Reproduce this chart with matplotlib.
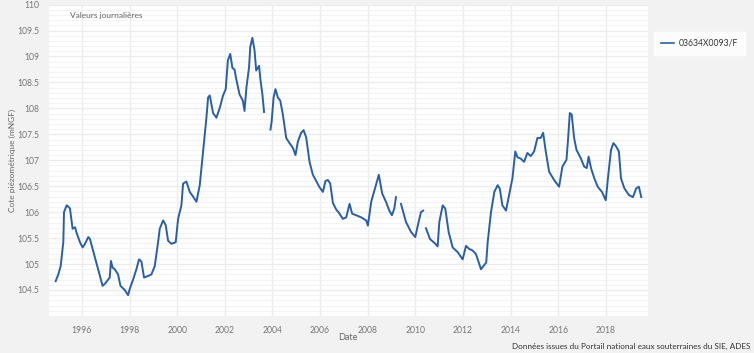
import numpy as np
import matplotlib
matplotlib.use('Agg')
import matplotlib.pyplot as plt
from matplotlib.ticker import MultipleLocator

plt.rcParams['font.family'] = ['Lato', 'DejaVu Sans']

# daily groundwater level (decimal year, mNGF); nan = gap
years = [1994.90, 1995.01, 1995.11, 1995.22, 1995.25, 1995.36, 1995.40, 1995.50, 1995.61, 1995.71,
         1995.78, 1995.92, 1996.03, 1996.12, 1996.27, 1996.34, 1996.87, 1996.97, 1997.17, 1997.22,
         1997.29, 1997.38, 1997.52, 1997.62, 1997.80, 1997.94, 1998.01, 1998.15, 1998.29, 1998.40,
         1998.50, 1998.61, 1998.78, 1998.92, 1999.06, 1999.20, 1999.27, 1999.41, 1999.52, 1999.62,
         1999.76, 1999.94, 2000.04, 2000.18, 2000.25, 2000.39, 2000.53, 2000.67, 2000.81, 2000.95,
         2001.09, 2001.23, 2001.30, 2001.37, 2001.51, 2001.65, 2001.79, 2001.93, 2002.04, 2002.13,
         2002.23, 2002.32, 2002.41, 2002.48, 2002.62, 2002.76, 2002.83, 2002.91, 2003.02, 2003.07,
         2003.16, 2003.25, 2003.32, 2003.44, 2003.50, 2003.58, 2003.65, 2003.80,
         2003.92, 2003.97, 2004.05, 2004.13, 2004.23, 2004.33, 2004.44, 2004.58, 2004.72, 2004.86,
         2004.97, 2005.07, 2005.21, 2005.31, 2005.42, 2005.56, 2005.70, 2005.84, 2005.98, 2006.12,
         2006.23, 2006.33, 2006.43, 2006.54, 2006.68, 2006.79, 2006.96, 2007.10, 2007.24, 2007.35,
         2007.52, 2007.73, 2007.94, 2008.01, 2008.15, 2008.29, 2008.47, 2008.61, 2008.77, 2008.91,
         2009.02, 2009.12, 2009.19, 2009.30,
         2009.40, 2009.61, 2009.82, 2010.00, 2010.14, 2010.24, 2010.33, 2010.40,
         2010.45, 2010.62, 2010.80, 2010.94, 2011.01, 2011.15, 2011.26, 2011.40, 2011.57, 2011.78,
         2011.99, 2012.13, 2012.27, 2012.41, 2012.55, 2012.76, 2012.98, 2013.04, 2013.18, 2013.32,
         2013.46, 2013.55, 2013.66, 2013.81, 2013.94, 2014.08, 2014.20, 2014.29, 2014.43, 2014.57,
         2014.71, 2014.85, 2014.99, 2015.13, 2015.27, 2015.37, 2015.48, 2015.62, 2015.83, 2016.04,
         2016.18, 2016.35, 2016.42, 2016.49, 2016.57, 2016.67, 2016.77, 2016.95, 2017.09, 2017.20,
         2017.28, 2017.38, 2017.52, 2017.66, 2017.84, 2018.00, 2018.09, 2018.22, 2018.32, 2018.43,
         2018.55, 2018.64, 2018.78, 2018.97, 2019.14, 2019.28, 2019.39, 2019.49]
levels = [104.67, 104.80, 104.96, 105.42, 106.00, 106.13, 106.12, 106.07, 105.68, 105.71,
          105.60, 105.42, 105.32, 105.38, 105.52, 105.48, 104.58, 104.62, 104.74, 105.06,
          104.93, 104.90, 104.80, 104.58, 104.50, 104.40, 104.52, 104.70, 104.90, 105.09,
          105.05, 104.74, 104.77, 104.80, 104.96, 105.42, 105.68, 105.84, 105.75, 105.45,
          105.39, 105.42, 105.87, 106.13, 106.55, 106.59, 106.39, 106.30, 106.20, 106.52,
          107.17, 107.82, 108.21, 108.25, 107.91, 107.82, 108.01, 108.25, 108.37, 108.92,
          109.05, 108.78, 108.75, 108.57, 108.27, 108.15, 107.95, 108.40, 108.79, 109.18,
          109.36, 109.12, 108.73, 108.82, 108.55, 108.27, 107.93, np.nan,
          107.59, 107.75, 108.21, 108.37, 108.21, 108.15, 107.88, 107.43, 107.33, 107.24,
          107.10, 107.36, 107.53, 107.58, 107.44, 106.97, 106.72, 106.60, 106.48, 106.39,
          106.60, 106.62, 106.55, 106.18, 106.05, 105.99, 105.87, 105.90, 106.16, 105.97,
          105.94, 105.90, 105.84, 105.74, 106.20, 106.43, 106.72, 106.36, 106.20, 106.03,
          105.94, 106.07, 106.29, np.nan,
          106.16, 105.81, 105.62, 105.52, 105.81, 106.00, 106.03, np.nan,
          105.69, 105.48, 105.41, 105.34, 105.81, 106.13, 106.07, 105.62, 105.32, 105.23,
          105.09, 105.35, 105.29, 105.26, 105.19, 104.90, 105.03, 105.42, 106.00, 106.39,
          106.52, 106.45, 106.13, 106.03, 106.33, 106.65, 107.17, 107.06, 107.03, 106.97,
          107.14, 107.08, 107.17, 107.43, 107.43, 107.53, 107.17, 106.78, 106.62, 106.49,
          106.88, 107.01, 107.43, 107.91, 107.88, 107.43, 107.20, 107.04, 106.88, 106.85,
          107.07, 106.85, 106.65, 106.49, 106.39, 106.23, 106.65, 107.20, 107.33, 107.27,
          107.17, 106.65, 106.46, 106.33, 106.29, 106.46, 106.49, 106.29]
station = '03634X0093/F'
year_ticks = [1996, 1998, 2000, 2002, 2004, 2006, 2008, 2010, 2012, 2014, 2016, 2018]
level_ticks = [104.5, 105, 105.5, 106, 106.5, 107, 107.5, 108, 108.5, 109, 109.5, 110]

fig = plt.figure(figsize=(7.54, 3.53), dpi=100, facecolor='#f2f2f2')
ax = fig.add_axes([0.065, 0.105, 0.794, 0.882])
ax.set_facecolor('white')

ax.plot(years, levels, color='#2a5fa8', lw=1.4, label=station, solid_joinstyle='round')

ax.set_xlim(1994.62, 2019.76)
ax.set_ylim(104.0, 110.0)
ax.set_xticks(year_ticks)
ax.set_xticklabels([str(y) for y in year_ticks])
ax.set_yticks(level_ticks)
ax.set_yticklabels(['104.5', '105', '105.5', '106', '106.5', '107', '107.5', '108',
                    '108.5', '109', '109.5', '110'])
ax.yaxis.set_minor_locator(MultipleLocator(0.1))

ax.grid(True, which='major', color='#ececec', lw=1.0)
ax.grid(True, which='minor', axis='y', color='#f3f3f3', lw=0.8)
ax.set_axisbelow(True)
for s in ax.spines.values():
    s.set_visible(False)
ax.tick_params(which='both', length=0, labelsize=6.2, colors='#777777', pad=7)

fig.text(348 / 754, 1 - 338 / 353, 'Date', fontsize=6.5, color='#666666', ha='center', va='center')
fig.text(12 / 754, 1 - 160 / 353, 'Cote piézométrique (mNGF)', fontsize=6, color='#666666',
         rotation=90, ha='center', va='center')
ax.text(0.035, 0.975, 'Valeurs journalières', transform=ax.transAxes, fontsize=6,
        color='#666666', va='top', ha='left')

leg = fig.legend(loc='center left', bbox_to_anchor=(0.862, 0.877), fontsize=6.2,
                 frameon=True, fancybox=False, handlelength=1.5, borderpad=0.8,
                 handletextpad=0.5)
leg.get_frame().set_facecolor('white')
leg.get_frame().set_edgecolor('white')
for line in leg.get_lines():
    line.set_linewidth(1.2)
for t in leg.get_texts():
    t.set_color('#333333')

fig.text(0.995, 0.008, 'Données issues du Portail national eaux souterraines du SIE, ADES',
         ha='right', va='bottom', fontsize=5.9, color='#333333')

fig.savefig('out.png', dpi=100, facecolor=fig.get_facecolor())
